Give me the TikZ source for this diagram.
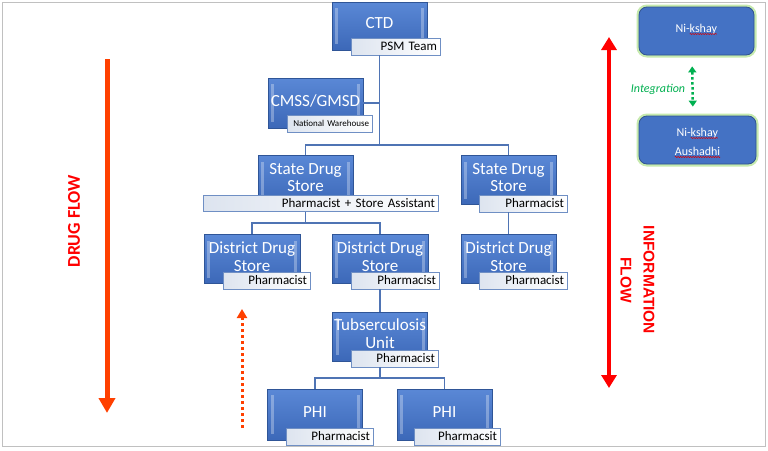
\documentclass[tikz,border=0pt]{standalone}
\usepackage{fontspec}
\setmainfont{Carlito}
\newfontfamily\arialf{Liberation Sans}
\usetikzlibrary{arrows.meta,decorations.pathmorphing,calc}
\definecolor{bluetop}{HTML}{5A88D6}
\definecolor{bluebot}{HTML}{3C68B8}
\definecolor{bluedark}{HTML}{2F5597}
\definecolor{lblborder}{HTML}{6F8FC4}
\definecolor{lblgray}{HTML}{DDE4EF}
\definecolor{connblue}{HTML}{4F74B4}
\definecolor{dfred}{HTML}{FF4000}
\definecolor{nikblue}{HTML}{4472C4}
\definecolor{nikborder}{HTML}{2F528F}
\definecolor{glow}{HTML}{C6EAAE}
\definecolor{intgreen}{HTML}{00B050}
\definecolor{framegray}{HTML}{C0C0C0}
\tikzset{
  ttl/.style={text=white, align=center, font=\fontsize{17}{17.7}\selectfont, inner sep=0pt, yshift=2.5pt},
  bluebox/.style={minimum width=95pt, minimum height=49pt, inner sep=0pt,
    draw=bluedark, line width=0.8pt, top color=bluetop, bottom color=bluebot,
    label={[ttl]center:#1},
    path picture={
      \fill[white,opacity=.3] ([xshift=3pt,yshift=-6pt]path picture bounding box.north west) rectangle ([xshift=6pt,yshift=6pt]path picture bounding box.south west);
      \fill[white,opacity=.3] ([xshift=-6pt,yshift=-6pt]path picture bounding box.north east) rectangle ([xshift=-3pt,yshift=6pt]path picture bounding box.south east);
    }},
  lbl/.style={draw=lblborder, line width=0.9pt, left color=lblgray, right color=white, minimum height=17pt,
    inner xsep=3pt, inner ysep=0pt, text=black, align=right, text width=#1, font=\fontsize{13}{13}\selectfont},
  conn/.style={draw=connblue, line width=1.3pt},
  nik/.style={rounded corners=8pt, fill=nikblue, draw=nikborder, line width=.8pt, inner sep=0pt,
    preaction={draw=glow, line width=5pt}},
  niktext/.style={text=white, font=\fontsize{12}{12}\selectfont, inner sep=0pt, outer sep=0pt},
  squig/.style={red!85!black, line width=.5pt, decorate, decoration={snake, amplitude=.6pt, segment length=2.5pt}},
}
\begin{document}
\begin{tikzpicture}[x=1pt,y=-1pt]
\useasboundingbox (0,0) rectangle (768,450);
\fill[white] (0,0) rectangle (768,450);
\draw[framegray, line width=1pt] (2,2) rectangle (765,446);

% org chart nodes
\node[bluebox={CTD}, minimum height=48pt] (ctd) at (379.5,26) {};
\node[lbl=83pt] (ctdL) at (395.5,46.5) {PSM Team};
\node[bluebox={CMSS/GMSD}, minimum height=50pt] (cmss) at (315.5,103) {};
\node[lbl=79pt, font=\fontsize{9}{9}\selectfont] (cmssL) at (329.5,123.5) {National Warehouse};
\node[bluebox={State Drug\\Store}] (sdsL) at (305.5,180) {};
\node[lbl=229pt, minimum height=16pt] (sdsLL) at (320.5,203.5) {Pharmacist + Store Assistant};
\node[bluebox={State Drug\\Store}] (sdsR) at (508.5,180) {};
\node[lbl=82pt] (sdsRL) at (523,203.5) {Pharmacist};
\node[bluebox={District Drug\\Store}, minimum width=96pt] (dds1) at (252,259) {};
\node[lbl=81pt] (dds1L) at (266.5,280.5) {Pharmacist};
\node[bluebox={District Drug\\Store}, minimum width=96pt] (dds2) at (380,259) {};
\node[lbl=82pt] (dds2L) at (395,280.5) {Pharmacist};
\node[bluebox={District Drug\\Store}] (dds3) at (508.5,259) {};
\node[lbl=82pt] (dds3L) at (523,280.5) {Pharmacist};
\node[bluebox={Tubserculosis\\Unit}] (tu) at (380,336.5) {};
\node[lbl=81pt] (tuL) at (394.5,358.5) {Pharmacist};
\node[bluebox={PHI}, minimum height=51pt] (phi1) at (315,414.5) {};
\node[lbl=81pt] (phi1L) at (329.5,436.5) {Pharmacist};
\node[bluebox={PHI}, minimum height=51pt] (phi2) at (444.5,414.5) {};
\node[lbl=80pt] (phi2L) at (457,436.5) {Pharmacsit};

% connectors
\coordinate (bus1) at (380,145);
\coordinate (bus2) at (306,223);
\coordinate (bus3) at (380,378);
\draw[conn] (ctd.center |- ctdL.south) -- (ctd.center |- bus1);
\draw[conn] (cmss.east) -- (cmss.east -| ctd.center);
\draw[conn] (sdsL.north) -- (sdsL.north |- bus1) -- (sdsR.north |- bus1) -- (sdsR.north);
\draw[conn] (sdsL.center |- sdsLL.south) -- (sdsL.center |- bus2);
\draw[conn] (dds1.north) -- (dds1.north |- bus2) -- (dds2.north |- bus2) -- (dds2.north);
\draw[conn] (sdsR.center |- sdsRL.south) -- (dds3.north);
\draw[conn] (dds2.center |- dds2L.south) -- (tu.north);
\draw[conn] (tu.center |- tuL.south) -- (tu.center |- bus3);
\draw[conn] (phi1.north) -- (phi1.north |- bus3) -- (phi2.north |- bus3) -- (phi2.north);

% drug flow
\coordinate (df1) at (107,59);
\coordinate (df2) at (107,413);
\draw[line width=5pt, draw=dfred, -{Triangle[length=15pt,width=16pt]}] (df1) -- (df2);
\node[rotate=90, text=red, font=\fontsize{18}{18}\selectfont\bfseries] (dflbl) at (74,221) {DRUG FLOW};
\coordinate (dt1) at (242,428);
\coordinate (dt2) at (242,309);
\draw[line width=3pt, draw=dfred, dash pattern=on 3pt off 3pt, -{Triangle[length=9pt,width=10pt]}] (dt1) -- (dt2);

% information flow
\coordinate (if1) at (609,37);
\coordinate (if2) at (609,388);
\draw[line width=4pt, draw=red, {Triangle[length=13pt,width=15pt]}-{Triangle[length=13pt,width=15pt]}] (if1) -- (if2);
\node[rotate=-90, text=red, align=center, font=\arialf\fontsize{15.5}{23}\selectfont\bfseries] (iflbl) at (637.5,280) {INFORMATION\\FLOW};

% Ni-kshay
\node[nik, minimum width=115pt, minimum height=48pt] (nk1) at (696.5,31) {};
\node[niktext, anchor=base west] (nk1p) at ([xshift=-21pt,yshift=-1pt]nk1.center) {Ni-};
\node[niktext, anchor=base west] (nk1k) at (nk1p.base east) {kshay};
\draw[squig] ([yshift=-2pt]nk1k.base west) -- ([yshift=-2pt]nk1k.base east);

\node[nik, minimum width=117pt, minimum height=48pt] (nk2) at (697.5,140) {};
\node[niktext, anchor=base west] (nk2p) at ([xshift=-21pt,yshift=4pt]nk2.center) {Ni-};
\node[niktext, anchor=base west] (nk2k) at (nk2p.base east) {kshay};
\node[niktext, anchor=base] (nk2a) at ([yshift=-15pt]nk2.center) {Aushadhi};
\draw[squig] ([yshift=-2pt]nk2k.base west) -- ([yshift=-2pt]nk2k.base east);
\draw[squig] ([yshift=-2pt]nk2a.base west) -- ([yshift=-2pt]nk2a.base east);

\draw[intgreen, line width=2.5pt, dash pattern=on 2.5pt off 2.5pt, shorten <=11pt, shorten >=9pt,
  {Triangle[length=6pt,width=8pt]}-{Triangle[length=6pt,width=8pt]}] ([xshift=-4.5pt]nk1.south) -- ([xshift=-4.5pt]nk2.north);
\node[text=intgreen, font=\fontsize{12}{12}\selectfont\itshape] (intl) at (658,89) {Integration};
\end{tikzpicture}
\end{document}
